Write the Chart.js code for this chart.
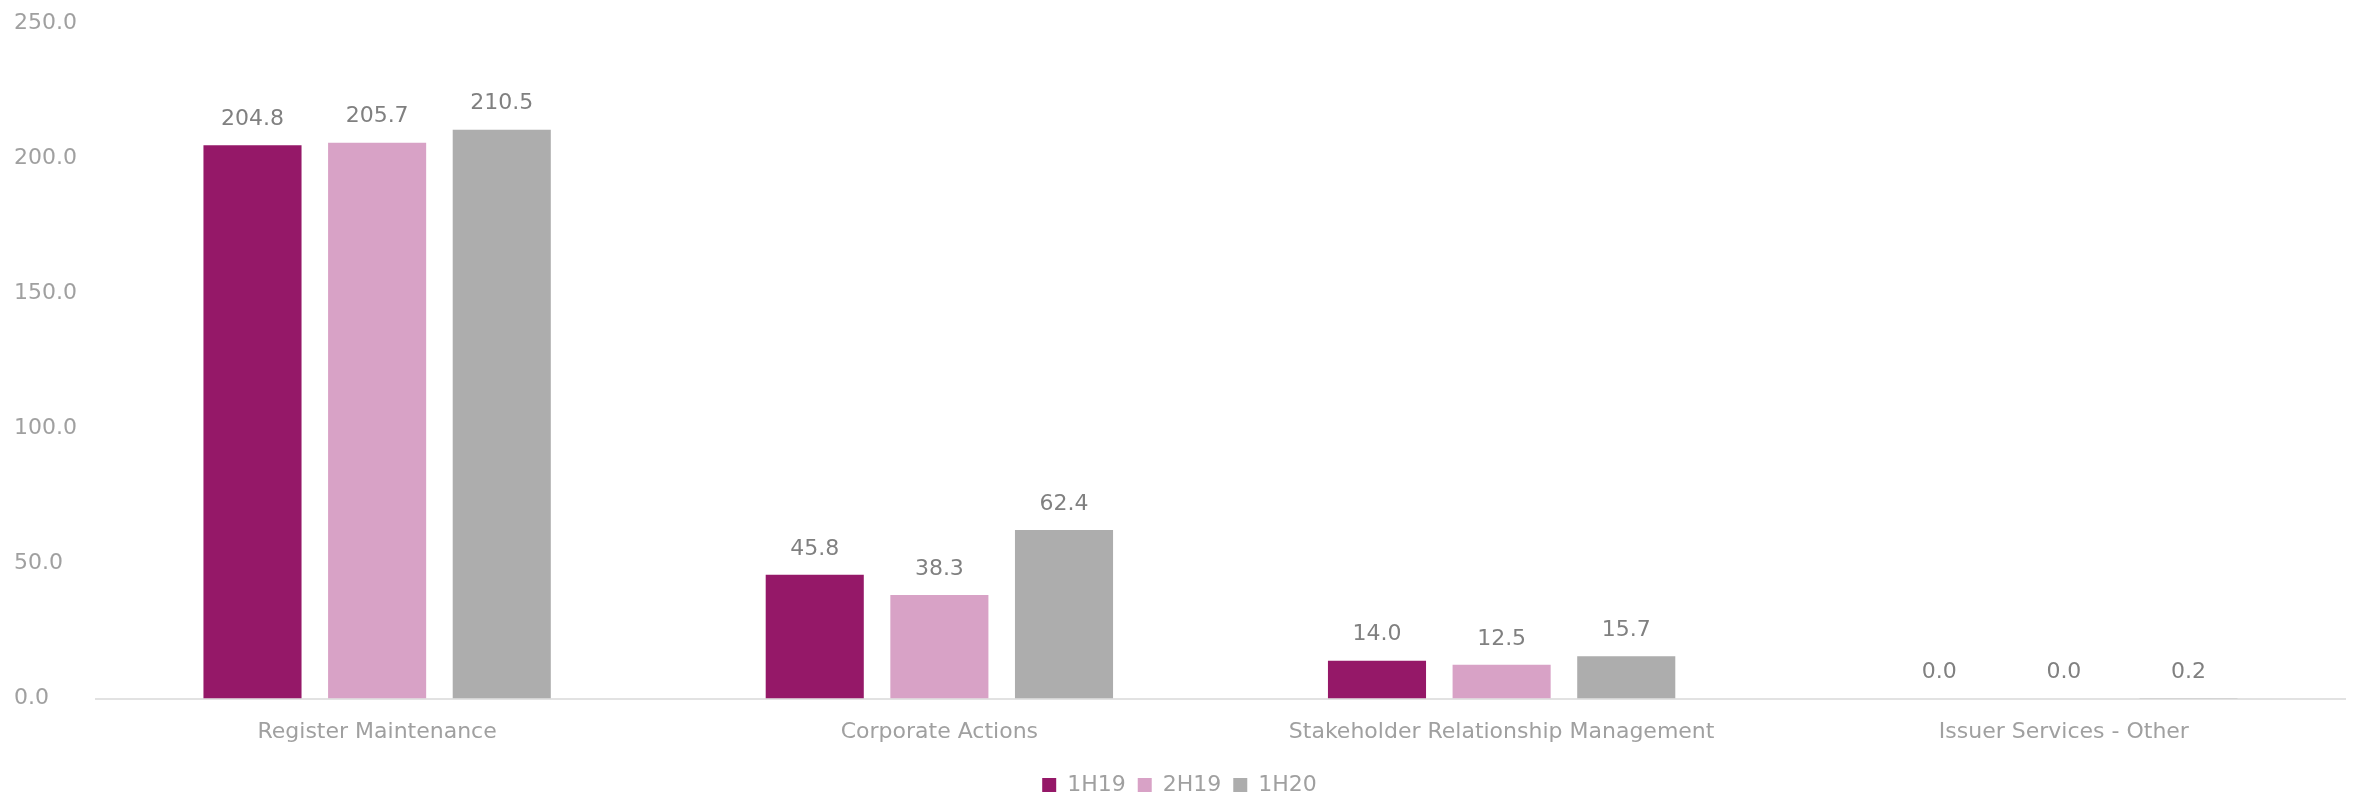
<!DOCTYPE html>
<html>
<head>
<meta charset="utf-8">
<script src="https://cdn.jsdelivr.net/npm/chart.js@4"></script>
<style>
  html, body { margin: 0; padding: 0; background: #fff; }
  #wrap { width: 2353px; height: 794px; position: relative; }
</style>
</head>
<body>
<div id="wrap"><canvas id="revenueChart"></canvas></div>
<script>
const categories = ['Register Maintenance', 'Corporate Actions', 'Stakeholder Relationship Management', 'Issuer Services - Other'];
const seriesNames = ['1H19', '2H19', '1H20'];
const values1H19 = [204.8, 45.8, 14.0, 0.0];
const values2H19 = [205.7, 38.3, 12.5, 0.0];
const values1H20 = [210.5, 62.4, 15.7, 0.2];
const yTicks = [0, 50, 100, 150, 200, 250];

const colors = ['#951868', '#d8a2c6', '#adadad'];
const FONT = 'Tahoma, "DejaVu Sans", sans-serif';

/* ===== value labels over each bar ===== */
const barLabels = {
    id: 'barLabels',
    afterDatasetsDraw(chart) {
        const ctx = chart.ctx;
        ctx.save();
        ctx.font = '22px ' + FONT;
        ctx.fillStyle = '#808080';
        ctx.textAlign = 'center';
        ctx.textBaseline = 'bottom';
        chart.data.datasets.forEach((ds, i) => {
            chart.getDatasetMeta(i).data.forEach((bar, j) => {
                ctx.fillText(ds.data[j].toFixed(1), bar.x, bar.y - 15);
            });
        });
        ctx.restore();
    }
};

const ctx = document.getElementById('revenueChart');

new Chart(ctx, {
    type: 'bar',
    data: {
        labels: categories,
        datasets: [values1H19, values2H19, values1H20].map((vals, i) => ({
            label: seriesNames[i],
            data: vals,
            backgroundColor: colors[i],
            categoryPercentage: 0.665,
            barPercentage: 0.787
        }))
    },
    options: {
        responsive: true,
        maintainAspectRatio: false,
        animation: false,
        // negative bottom padding pushes the legend close to the edge
        layout: { padding: { left: 14, right: 8, top: 23, bottom: -12 } },
        plugins: {
            legend: {
                position: 'bottom',
                labels: {
                    boxWidth: 14,
                    boxHeight: 14,
                    padding: 12,
                    color: '#a0a0a0',
                    font: { family: FONT, size: 22 }
                }
            },
            tooltip: { enabled: false }
        },
        scales: {
            x: {
                grid: { display: false },
                border: { color: '#e2e2e2', width: 2 },
                afterFit(scale) { scale.height += 5; },
                ticks: {
                    color: '#a0a0a0',
                    padding: 12,
                    font: { family: FONT, size: 22 }
                }
            },
            y: {
                min: 0,
                max: 250,
                grid: { display: false },
                border: { display: false },
                afterBuildTicks(scale) {
                    scale.ticks = yTicks.map(v => ({ value: v }));
                },
                afterFit(scale) { scale.width = 82; },
                ticks: {
                    color: '#a0a0a0',
                    crossAlign: 'far',
                    font: { family: FONT, size: 22 },
                    callback: v => v.toFixed(1)
                }
            }
        }
    },
    plugins: [barLabels]
});
</script>
</body>
</html>
